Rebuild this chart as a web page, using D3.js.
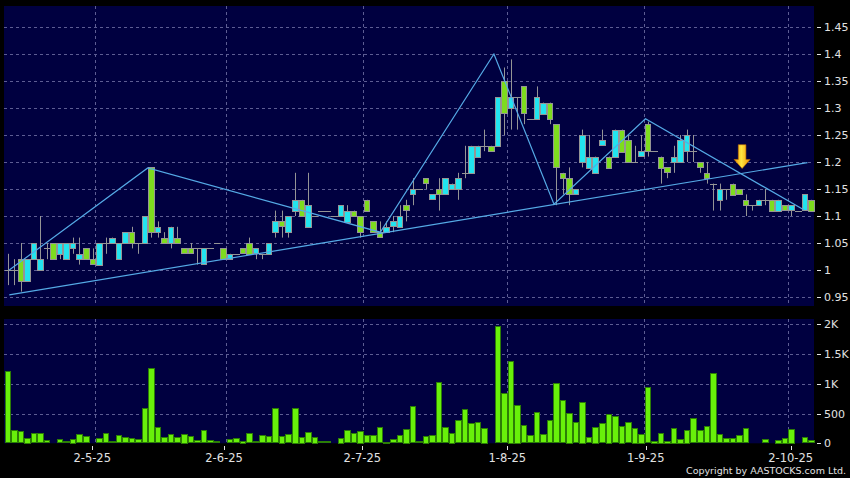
<!DOCTYPE html>
<html>
<head>
<meta charset="utf-8">
<script src="https://cdn.jsdelivr.net/npm/d3@7/dist/d3.min.js"></script>
<style>
  body { margin: 0; background: #000; }
  svg { display: block; font-family: "DejaVu Sans", Verdana, sans-serif; }
</style>
</head>
<body>
<div id="chart"></div>
<script>
// daily bars, one entry per trading day
const opens = [1.00,1.00,1.02,0.98,1.02,1.00,1.04,1.05,1.03,1.02, 1.04,1.02,1.04,1.02,1.01,1.05,1.05,1.02,1.05,1.07,
  1.05,1.05,1.19,1.07,1.06,1.05,1.06,1.04,1.04,1.04, 1.01,1.04,1.05,1.04,1.02,1.03,1.04,1.05,1.03,1.03,
  1.03,1.07,1.09,1.07,1.11,1.13,1.08,1.10,1.11,1.11, 1.10,1.10,1.09,1.11,1.10,1.13,1.09,1.07,1.07,1.08,
  1.08,1.12,1.14,1.15,1.17,1.13,1.15,1.14,1.15,1.15, 1.18,1.18,1.21,1.23,1.23,1.23,1.35,1.30,1.32,1.34,
  1.28,1.28,1.29,1.31,1.27,1.18,1.17,1.14,1.20,1.19, 1.18,1.23,1.21,1.21,1.26,1.24,1.20,1.21,1.27,1.22,
  1.21,1.19,1.20,1.20,1.22,1.22,1.20,1.18,1.16,1.13, 1.15,1.16,1.15,1.13,1.12,1.12,1.13,1.13,1.11,1.12,
  1.11,1.11,1.11,1.13];
const highs = [1.03,1.02,1.05,1.02,1.05,1.10,1.05,1.05,1.05,1.05, 1.06,1.06,1.04,1.04,1.05,1.06,1.06,1.05,1.07,1.08,
  1.05,1.10,1.19,1.09,1.07,1.08,1.08,1.04,1.05,1.04, 1.04,1.04,1.05,1.04,1.03,1.03,1.04,1.06,1.04,1.03,
  1.05,1.11,1.11,1.10,1.18,1.13,1.18,1.10,1.11,1.11, 1.10,1.12,1.12,1.11,1.10,1.13,1.09,1.09,1.09,1.10,
  1.12,1.13,1.17,1.15,1.17,1.14,1.17,1.17,1.16,1.18, 1.23,1.23,1.23,1.26,1.23,1.32,1.375,1.39,1.32,1.34,
  1.28,1.34,1.31,1.31,1.27,1.18,1.19,1.15,1.26,1.25, 1.21,1.26,1.21,1.26,1.26,1.25,1.23,1.25,1.275,1.22,
  1.21,1.19,1.23,1.25,1.26,1.25,1.20,1.20,1.16,1.16, 1.15,1.16,1.15,1.14,1.12,1.13,1.15,1.13,1.13,1.12,
  1.12,1.11,1.14,1.13];
const lows = [0.972,0.972,0.96,0.98,1.02,1.00,1.02,1.02,1.02,1.02, 1.03,1.01,1.02,1.01,1.01,1.03,1.05,1.02,1.05,1.04,
  1.03,1.05,1.06,1.06,1.05,1.04,1.05,1.03,1.03,1.01, 1.01,1.04,1.05,1.02,1.02,1.03,1.03,1.03,1.02,1.02,
  1.03,1.06,1.06,1.06,1.10,1.10,1.08,1.10,1.11,1.11, 1.10,1.10,1.09,1.10,1.06,1.11,1.07,1.06,1.07,1.07,
  1.08,1.09,1.12,1.15,1.15,1.13,1.11,1.14,1.15,1.13, 1.17,1.18,1.21,1.22,1.22,1.23,1.25,1.26,1.26,1.27,
  1.28,1.28,1.29,1.27,1.12,1.14,1.12,1.14,1.19,1.19, 1.18,1.23,1.19,1.21,1.22,1.20,1.20,1.21,1.21,1.22,
  1.16,1.17,1.18,1.20,1.20,1.20,1.18,1.16,1.11,1.11, 1.13,1.14,1.14,1.10,1.11,1.12,1.12,1.11,1.11,1.11,
  1.10,1.11,1.11,1.11];
const closes = [1.00,1.00,0.98,1.02,1.05,1.02,1.04,1.02,1.05,1.05, 1.05,1.03,1.02,1.01,1.05,1.05,1.06,1.05,1.07,1.05,
  1.05,1.10,1.07,1.08,1.05,1.08,1.05,1.03,1.03,1.04, 1.04,1.04,1.05,1.02,1.03,1.03,1.03,1.03,1.04,1.03,
  1.05,1.09,1.08,1.10,1.13,1.10,1.12,1.10,1.11,1.11, 1.10,1.12,1.11,1.10,1.07,1.11,1.07,1.06,1.08,1.09,
  1.10,1.11,1.15,1.15,1.16,1.14,1.14,1.17,1.16,1.17, 1.18,1.23,1.23,1.23,1.22,1.32,1.29,1.32,1.32,1.29,
  1.28,1.32,1.31,1.28,1.19,1.17,1.14,1.15,1.25,1.21, 1.21,1.24,1.19,1.26,1.22,1.20,1.20,1.22,1.22,1.22,
  1.19,1.18,1.21,1.24,1.25,1.22,1.19,1.17,1.16,1.15, 1.15,1.14,1.14,1.12,1.12,1.13,1.13,1.11,1.13,1.11,
  1.12,1.11,1.14,1.11];
const volumes = [1206,222,205,94,167,167,56,5,72,39, 78,150,122,15,89,167,39,133,106,83,
  72,589,1261,267,106,150,106,161,122,56, 222,50,39,17,72,89,44,167,39,139,
  117,594,128,150,600,111,183,111,33,33, 22,94,217,167,211,139,139,267,28,72,
  133,244,628,39,128,139,1030,276,181,388, 572,343,352,265,12,1972,844,1389,650,306,
  139,528,150,389,1006,722,517,350,700,106, 278,344,500,456,294,361,261,161,944,44,
  178,44,261,78,228,417,217,283,1178,150, 83,83,139,250,17,17,72,17,61,94,
  244,17,106,50];

const monthIdx = [14, 34, 55, 77, 98, 120];
const monthLabels = ['2-5-25', '2-6-25', '2-7-25', '1-8-25', '1-9-25', '2-10-25'];
const priceTicks = [0.95, 1, 1.05, 1.1, 1.15, 1.2, 1.25, 1.3, 1.35, 1.4, 1.45];
const priceTickLabels = ['0.95', '1', '1.05', '1.1', '1.15', '1.2', '1.25', '1.3', '1.35', '1.4', '1.45'];
const volTicks = [0, 500, 1000, 1500, 2000];
const volTickLabels = ['0', '500', '1K', '1.5K', '2K'];

// drawn trend lines (bar index, price)
const zigzagIdx = [0.3, 21.5, 57.1, 74.5, 83.7, 97.7, 122.0];
const zigzagPrice = [1.0, 1.189, 1.07, 1.40, 1.122, 1.28, 1.111];
const supportIdx = [0.3, 122.5];
const supportPrice = [0.954, 1.199];
const arrowIdx = 112.5, arrowTop = 1.232, arrowTip = 1.188;

const W = 850, H = 478;
const plotL = 4, plotR = 814;
const priceTop = 6, priceBot = 306;
const volTop = 319, volBot = 443.3;
const n = closes.length;

const bg = '#000040', gridCol = '#5d5d93', textCol = '#e2e2e2';
const upCol = '#22e4ef', downCol = '#7edc1e', edgeCol = '#959595';
const trendCol = '#55aae6';

const svg = d3.select('#chart').append('svg').attr('width', W).attr('height', H);
svg.append('rect').attr('width', W).attr('height', H).attr('fill', '#000');

const x = d3.scaleBand().domain(d3.range(n)).range([plotL, plotR]).paddingInner(0.15).paddingOuter(0.08);
const step = x.step();
const cx = i => x(i) + x.bandwidth() / 2;
const xi = d3.scaleLinear().domain([0, n - 1]).range([cx(0), cx(n - 1)]);
const xLab = d3.scaleLinear().domain([0, n]).range([0, 817]);
const gridX = i => x(0) - step * x.paddingInner() / 2 + i * step;
// whole-pixel slot of each bar
const slotL = i => Math.round(gridX(i) + 0.6);
const slotR = i => Math.round(gridX(i + 1) + 0.6);
const midX = i => Math.floor((slotL(i) + slotR(i)) / 2) + 0.5;

const yP = d3.scaleLinear().domain([0.95, 1.45]).range([297, 27]);
const yV = d3.scaleLinear().domain([0, 2000]).range([volBot, 324.2]);

// panels
svg.append('rect').attr('x', plotL).attr('y', priceTop).attr('width', plotR - plotL).attr('height', priceBot - priceTop).attr('fill', bg);
svg.append('rect').attr('x', plotL).attr('y', volTop).attr('width', plotR - plotL).attr('height', volBot - volTop).attr('fill', bg);

const grid = svg.append('g').attr('stroke', gridCol).attr('stroke-width', 1).attr('stroke-dasharray', '3,3');
grid.selectAll('.hp').data(priceTicks).join('line')
  .attr('x1', plotL).attr('x2', plotR)
  .attr('y1', d => Math.round(yP(d)) + 0.5).attr('y2', d => Math.round(yP(d)) + 0.5);
grid.selectAll('.hv').data(volTicks.slice(1)).join('line')
  .attr('x1', plotL).attr('x2', plotR)
  .attr('y1', d => Math.round(yV(d)) + 0.5).attr('y2', d => Math.round(yV(d)) + 0.5);
[[priceTop, priceBot], [volTop, volBot]].forEach(([t, b]) => {
  grid.append('g').selectAll('line').data(monthIdx).join('line')
    .attr('x1', d => Math.round(gridX(d)) + 0.5).attr('x2', d => Math.round(gridX(d)) + 0.5)
    .attr('y1', t).attr('y2', b);
});

// candles
const bars = d3.range(n).map(i => ({i, o: opens[i], h: highs[i], l: lows[i], c: closes[i], v: volumes[i]}));
const cg = svg.append('g');
cg.selectAll('.wick').data(bars).join('line')
  .attr('x1', d => midX(d.i)).attr('x2', d => midX(d.i))
  .attr('y1', d => yP(d.h)).attr('y2', d => yP(d.l))
  .attr('stroke', edgeCol).attr('stroke-width', 1);
cg.selectAll('.body').data(bars.filter(d => d.o !== d.c)).join('rect')
  .attr('x', d => slotL(d.i) + 0.5)
  .attr('width', d => slotR(d.i) - slotL(d.i) - 1)
  .attr('y', d => Math.round(yP(Math.max(d.o, d.c))) + 0.5)
  .attr('height', d => Math.max(1, Math.round(Math.abs(yP(d.o) - yP(d.c)))))
  .attr('fill', d => d.c > d.o ? upCol : downCol)
  .attr('stroke', edgeCol).attr('stroke-width', 1);
cg.selectAll('.doji').data(bars.filter(d => d.o === d.c)).join('line')
  .attr('x1', d => slotL(d.i)).attr('x2', d => slotR(d.i))
  .attr('y1', d => Math.round(yP(d.c)) + 0.5).attr('y2', d => Math.round(yP(d.c)) + 0.5)
  .attr('stroke', edgeCol).attr('stroke-width', 1);

// volume
svg.append('g').selectAll('rect').data(bars).join('rect')
  .attr('x', d => slotL(d.i) + 0.5)
  .attr('width', d => slotR(d.i) - slotL(d.i) - 1)
  .attr('y', d => Math.round(yV(d.v)) + 0.5)
  .attr('height', d => Math.max(0, Math.round(volBot - yV(d.v)) - 1))
  .attr('fill', '#68f00a').attr('stroke', '#2c7d06').attr('stroke-width', 1);

// trend lines
const tl = d3.line().x(d => xi(d[0])).y(d => yP(d[1]));
svg.append('path').datum(zigzagIdx.map((d, k) => [d, zigzagPrice[k]]))
  .attr('d', tl).attr('fill', 'none').attr('stroke', trendCol).attr('stroke-width', 1.2);
svg.append('path').datum(supportIdx.map((d, k) => [d, supportPrice[k]]))
  .attr('d', tl).attr('fill', 'none').attr('stroke', trendCol).attr('stroke-width', 1.2);

// yellow arrow
const defs = svg.append('defs');
const grad = defs.append('linearGradient').attr('id', 'arrowGrad').attr('x1', 0).attr('x2', 1).attr('y1', 0).attr('y2', 0);
grad.append('stop').attr('offset', '0%').attr('stop-color', '#f09000');
grad.append('stop').attr('offset', '45%').attr('stop-color', '#ffe640');
grad.append('stop').attr('offset', '100%').attr('stop-color', '#f09000');
const ax = xi(arrowIdx), at = yP(arrowTop), ap = yP(arrowTip);
const headH = 9, shaftW = 3.8, headW = 8;
svg.append('path')
  .attr('d', `M${ax - shaftW},${at} L${ax + shaftW},${at} L${ax + shaftW},${ap - headH} L${ax + headW},${ap - headH} L${ax},${ap} L${ax - headW},${ap - headH} L${ax - shaftW},${ap - headH} Z`)
  .attr('fill', 'url(#arrowGrad)').attr('stroke', '#c77400').attr('stroke-width', 0.6);

// right axes
const axG = svg.append('g').attr('fill', textCol).attr('font-size', 11);
axG.selectAll('.pl').data(priceTicks).join('text')
  .attr('x', 824).attr('y', d => yP(d) + 4)
  .text((d, k) => priceTickLabels[k]);
axG.selectAll('.vl').data(volTicks).join('text')
  .attr('x', 824).attr('y', d => yV(d) + 4)
  .text((d, k) => volTickLabels[k]);
const tickG = svg.append('g').attr('stroke', textCol).attr('stroke-width', 1);
tickG.selectAll('.pt').data(priceTicks).join('line')
  .attr('x1', 817).attr('x2', 821)
  .attr('y1', d => Math.round(yP(d)) + 0.5).attr('y2', d => Math.round(yP(d)) + 0.5);
tickG.selectAll('.vt').data(volTicks).join('line')
  .attr('x1', 817).attr('x2', 821)
  .attr('y1', d => Math.round(yV(d)) + 0.5).attr('y2', d => Math.round(yV(d)) + 0.5);

// bottom date labels
tickG.selectAll('.xt').data(monthIdx).join('line')
  .attr('x1', d => Math.round(xLab(d)) + 0.5).attr('x2', d => Math.round(xLab(d)) + 0.5)
  .attr('y1', 446).attr('y2', 450);
axG.selectAll('.xl').data(monthIdx).join('text')
  .attr('x', d => xLab(d)).attr('y', 462)
  .attr('text-anchor', 'middle').attr('font-size', 11.5)
  .text((d, k) => monthLabels[k]);

svg.append('text').attr('x', 846).attr('y', 474).attr('text-anchor', 'end')
  .attr('fill', textCol).attr('font-size', 9.5)
  .text('Copyright by AASTOCKS.com Ltd.');
</script>
</body>
</html>
